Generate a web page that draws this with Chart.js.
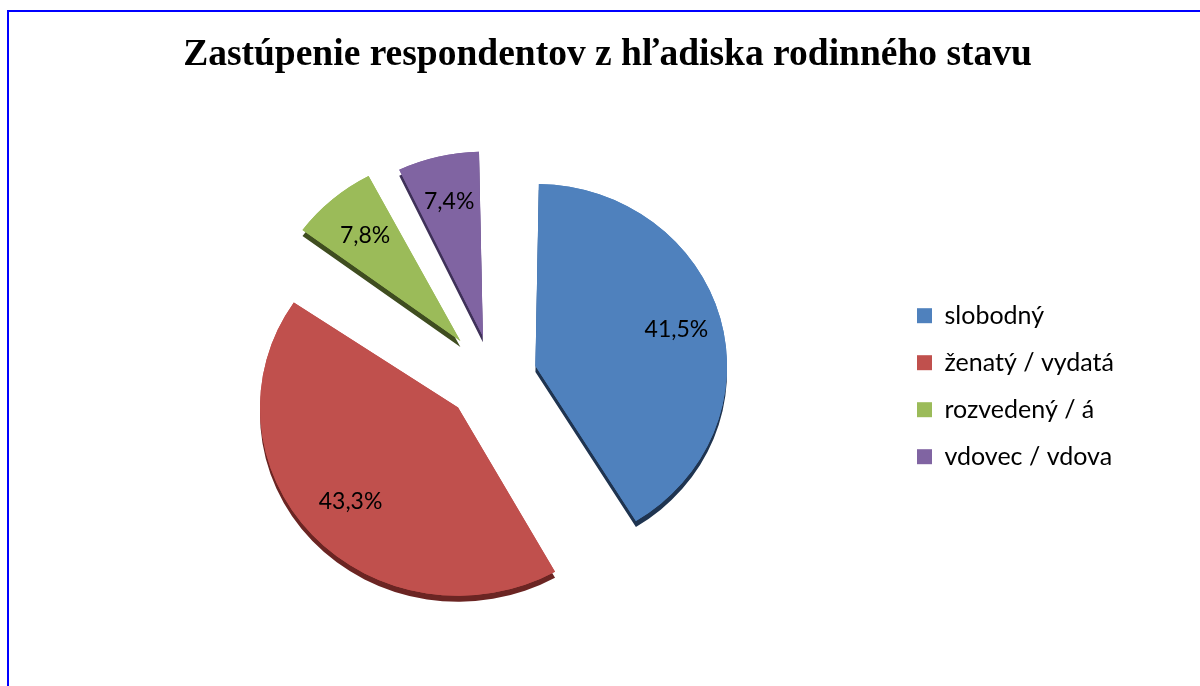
<!DOCTYPE html>
<html>
<head>
<meta charset="utf-8">
<script src="https://cdn.jsdelivr.net/npm/chart.js@4"></script>
<style>
  body { margin: 0; background: #fff; }
  #wrap { position: relative; width: 1200px; height: 686px; overflow: hidden; background: #fff; }
  #frame { position: absolute; left: 7px; top: 10px; width: 1300px; height: 800px;
           border-top: 2px solid #0000ff; border-left: 2px solid #0000ff; }
  canvas { position: absolute; left: 0; top: 0; }
</style>
</head>
<body>
<div id="wrap">
  <div id="frame"></div>
  <canvas id="pieChart" width="1200" height="686"></canvas>
</div>
<script>
const categories = ["slobodný", "ženatý / vydatá", "rozvedený / á", "vdovec / vdova"];
const shares = [41.5, 43.3, 7.8, 7.4];
const shareLabels = ["41,5%", "43,3%", "7,8%", "7,4%"];
const colors = ["#4f81bd", "#c0504d", "#9bbb59", "#8064a2"];
const sideColors = ["#1f3450", "#6b2523", "#3f4d20", "#3f3159"];
const explode = [176, 190, 200, 176];
const tilt = 0.95;

// slight tilt plus a dark lower edge, like the 3D side of the slices
const sliceDepth = {
    id: "sliceDepth",
    beforeDatasetsDraw(chart) {
        const ctx = chart.ctx;
        const arcs = chart.getDatasetMeta(0).data;
        const cy = arcs[0].y;
        ctx.save();
        ctx.translate(0, cy);
        ctx.scale(1, tilt);
        ctx.translate(0, -cy);
        arcs.forEach((arc, i) => {
            ctx.save();
            ctx.shadowColor = sideColors[i];
            ctx.shadowOffsetX = 0;
            ctx.shadowOffsetY = 6;
            ctx.shadowBlur = 0;
            arc.draw(ctx);
            ctx.restore();
        });
    },
    afterDatasetsDraw(chart) {
        chart.ctx.restore();
    }
};

// percentage labels inside the slices
const sliceLabels = {
    id: "sliceLabels",
    afterDatasetsDraw(chart) {
        const ctx = chart.ctx;
        const meta = chart.getDatasetMeta(0);
        ctx.save();
        ctx.font = "23px Lato";
        ctx.fillStyle = "#000";
        ctx.textAlign = "center";
        ctx.textBaseline = "middle";
        meta.data.forEach((arc, i) => {
            const p = arc.getProps(["x", "y", "startAngle", "endAngle", "outerRadius"], true);
            const mid = (p.startAngle + p.endAngle) / 2;
            const shift = explode[i] / 4;
            const r = shift + p.outerRadius * 0.86;
            ctx.fillText(shareLabels[i], p.x + Math.cos(mid) * r, p.y + Math.sin(mid) * r * tilt);
        });
        ctx.restore();
    }
};

new Chart(document.getElementById("pieChart"), {
    type: "pie",
    data: {
        labels: categories,
        datasets: [{
            data: shares,
            backgroundColor: colors,
            borderWidth: 0,
            offset: explode,
            hoverOffset: 0
        }]
    },
    options: {
        responsive: false,
        animation: false,
        radius: 170,
        layout: { padding: { left: 91, right: 76, top: 0, bottom: 10 } },
        plugins: {
            title: {
                display: true,
                text: "Zastúpenie respondentov z hľadiska rodinného stavu",
                color: "#000",
                font: { family: "Liberation Serif", size: 37.5, weight: "bold" },
                padding: { top: 33, bottom: 0 }
            },
            legend: {
                position: "right",
                title: { display: true, text: "", padding: 41 },
                labels: {
                    boxWidth: 15,
                    boxHeight: 15,
                    padding: 22,
                    color: "#000",
                    font: { family: "Lato", size: 25 }
                }
            },
            tooltip: { enabled: false }
        }
    },
    plugins: [sliceDepth, sliceLabels]
});
</script>
</body>
</html>
